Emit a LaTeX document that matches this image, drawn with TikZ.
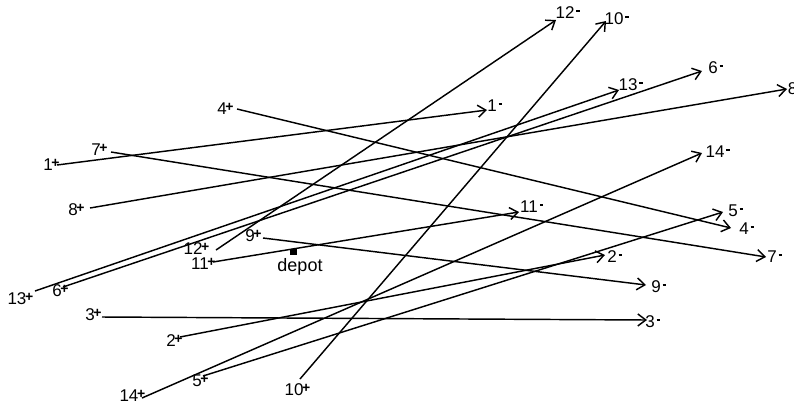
\documentclass[tikz,border=0pt]{standalone}
\usepackage{fontspec}
\setmainfont{Liberation Sans}
\usetikzlibrary{arrows.meta}
\newcommand\pls{\smash{\rlap{\hspace{-1.4pt}\raisebox{3.4pt}{\fontsize{14}{14}\selectfont\bfseries +}}}}
\newcommand\mns{\smash{\rlap{\hspace{2pt}\raisebox{6.5pt}{\rule{3.2pt}{2.2pt}}}}}
\tikzset{
  lbl/.style={inner sep=0pt, font=\fontsize{17}{17}\selectfont},
  req/.style={line width=1.45pt, -{Straight Barb[length=8pt,width=12pt,line width=1.45pt]}},
}
\begin{document}
\begin{tikzpicture}[x=1pt,y=-1pt]
\useasboundingbox (0,0) rectangle (794,410);
% pickup points
\coordinate (p1) at (57,165);
\coordinate (p7) at (111,152);
\coordinate (p4) at (237,109);
\coordinate (p8) at (90,208);
\coordinate (p13) at (35,291);
\coordinate (p6) at (63,287);
\coordinate (p12) at (216,250);
\coordinate (p10) at (300,379);
\coordinate (p11) at (213,262);
\coordinate (p9) at (263,238);
\coordinate (p3) at (102,317);
\coordinate (p2) at (180,337);
\coordinate (p5) at (203,376);
\coordinate (p14) at (142,398);
% delivery points
\coordinate (d1) at (487,110);
\coordinate (d7) at (766,257);
\coordinate (d4) at (731,228);
\coordinate (d8) at (787,89);
\coordinate (d13) at (619,90);
\coordinate (d6) at (702,71);
\coordinate (d12) at (556,20);
\coordinate (d10) at (606,21);
\coordinate (d11) at (519,212);
\coordinate (d9) at (646,285);
\coordinate (d3) at (647,320);
\coordinate (d2) at (605,255);
\coordinate (d5) at (723,212);
\coordinate (d14) at (702,153);
% requests
\foreach \i in {1,...,14} {\draw[req] (p\i) -- (d\i);}
% pickup labels
\node[lbl] (lp1) at (48,165) {1\pls};
\node[lbl] (lp7) at (96,150) {7\pls};
\node[lbl] (lp4) at (222,109) {4\pls};
\node[lbl] (lp8) at (73,210) {8\pls};
\node[lbl] (lp13) at (17,299) {13\pls};
\node[lbl] (lp6) at (57,291) {6\pls};
\node[lbl] (lp12) at (193,249) {12\pls};
\node[lbl] (lp11) at (200,264) {11\pls};
\node[lbl] (lp9) at (250,236) {9\pls};
\node[lbl] (lp3) at (90,315) {3\pls};
\node[lbl] (lp2) at (171,341) {2\pls};
\node[lbl] (lp5) at (197,381) {5\pls};
\node[lbl] (lp14) at (129,396) {14\pls};
\node[lbl] (lp10) at (294,390) {10\pls};
% delivery labels
\node[lbl] (ld1) at (492,106) {1\mns};
\node[lbl] (ld12) at (565,13) {12\mns};
\node[lbl] (ld10) at (614,19) {10\mns};
\node[lbl] (ld13) at (628,85) {13\mns};
\node[lbl] (ld6) at (713,68) {6\mns};
\node[lbl] (ld8) at (792.5,89) {8\mns};
\node[lbl] (ld14) at (715,152) {14\mns};
\node[lbl] (ld11) at (529,207) {11\mns};
\node[lbl] (ld5) at (733,211) {5\mns};
\node[lbl] (ld4) at (744,229) {4\mns};
\node[lbl] (ld7) at (772,257) {7\mns};
\node[lbl] (ld2) at (612,257) {2\mns};
\node[lbl] (ld9) at (656,287) {9\mns};
\node[lbl] (ld3) at (650,322) {3\mns};
% depot
\node[fill=black, minimum width=7pt, minimum height=6pt, inner sep=0pt] (depot) at (293,252) {};
\node[inner sep=0pt, font=\fontsize{18}{18}\selectfont] (depotlbl) at (300,267) {depot};
\end{tikzpicture}
\end{document}
